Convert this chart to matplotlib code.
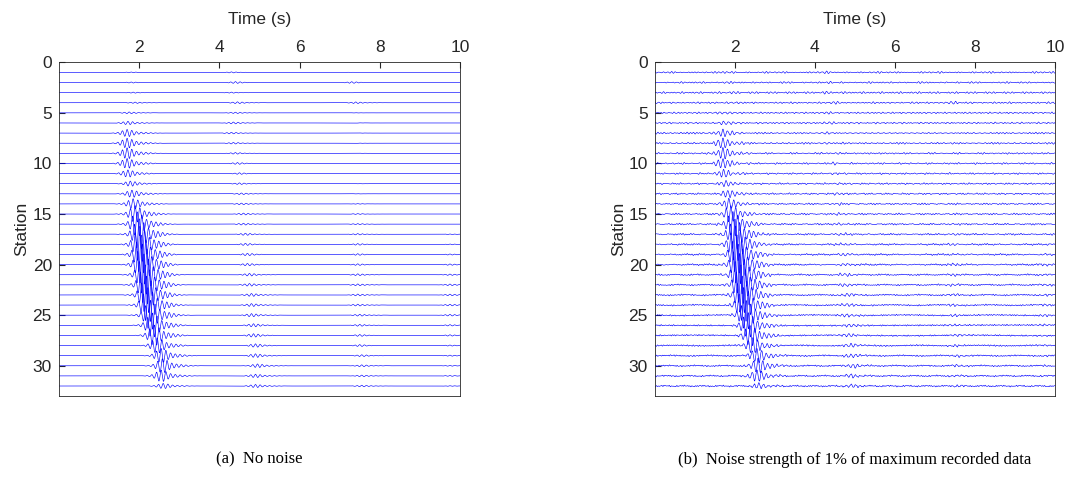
import numpy as np
import matplotlib.pyplot as plt

# Station numbers and main arrival (time of envelope peak, amplitude in station units)
stations = np.arange(1, 33)
t_main = [1.80, 1.80, 1.85, 1.90, 1.75, 1.72, 1.70, 1.70, 1.70, 1.70, 1.72, 1.78,
          1.82, 1.85, 1.90, 1.95, 2.00, 2.02, 2.05, 2.08, 2.12, 2.15, 2.18, 2.22,
          2.28, 2.33, 2.38, 2.45, 2.55, 2.58, 2.55, 2.60]
a_main = [0.03, 0.04, 0.04, 0.05, 0.07, 0.13, 0.28, 0.38, 0.42, 0.38, 0.28, 0.20,
          0.28, 0.40, 0.65, 0.95, 1.20, 1.40, 1.50, 1.60, 1.60, 1.55, 1.45, 1.35,
          1.15, 0.95, 0.80, 0.60, 0.55, 0.55, 0.45, 0.20]

# Second arrival (~4-5 s)
t_second = [4.30, 4.40, 4.30, 4.45, 4.40, 4.35, 4.30, 4.35, 4.40, 4.45, 4.50, 4.50,
            4.55, 4.55, 4.60, 4.60, 4.65, 4.65, 4.70, 4.70, 4.75, 4.75, 4.80, 4.80,
            4.80, 4.85, 4.85, 4.90, 4.90, 4.95, 4.90, 4.90]
a_second = [0.04, 0.07, 0.04, 0.07, 0.05, 0.07, 0.06, 0.06, 0.06, 0.07, 0.06, 0.06,
            0.06, 0.06, 0.07, 0.07, 0.08, 0.08, 0.09, 0.09, 0.10, 0.10, 0.11, 0.11,
            0.12, 0.12, 0.13, 0.13, 0.14, 0.14, 0.13, 0.12]

# Third arrival (~7-8 s)
t_third = [7.20, 7.30, 7.40, 7.40, 7.40, 7.50, 7.50, 7.50, 7.50, 7.50, 7.50, 7.50,
           7.45, 7.45, 7.45, 7.45, 7.45, 7.45, 7.45, 7.45, 7.45, 7.45, 7.45, 7.45,
           7.50, 7.50, 7.50, 7.50, 7.55, 7.55, 7.55, 7.55]
a_third = [0.01, 0.06, 0.01, 0.06, 0.01, 0.01, 0.01, 0.01, 0.01, 0.01, 0.01, 0.01,
           0.01, 0.02, 0.03, 0.04, 0.05, 0.06, 0.06, 0.06, 0.07, 0.07, 0.07, 0.07,
           0.07, 0.07, 0.07, 0.07, 0.07, 0.07, 0.06, 0.06]

# Late arrival near the right edge
t_late = [9.75] * 32
a_late = [0.0] * 16 + [0.02, 0.03, 0.04, 0.05, 0.05, 0.06, 0.06, 0.06,
                       0.06, 0.05, 0.05, 0.04, 0.04, 0.03, 0.03, 0.02]

noise_level = 0.01  # fraction of max recorded amplitude
captions = ["(a)  No noise", "(b)  Noise strength of 1% of maximum recorded data"]

t = np.linspace(0, 10, 3001)
freq = 8.5


def wavelet(t0, amp):
    dt = t - t0
    env = np.exp(-(dt / 0.17) ** 2) + 0.35 * np.exp(-((dt - 0.2) / 0.42) ** 2)
    return amp * env * np.cos(2 * np.pi * freq * dt)


def trace(i):
    return (wavelet(t_main[i], a_main[i]) + wavelet(t_second[i], a_second[i])
            + wavelet(t_third[i], a_third[i]) + wavelet(t_late[i], a_late[i]))


max_amp = max(a_main)

plt.rcParams['font.family'] = ['Liberation Sans', 'DejaVu Sans']
fig = plt.figure(figsize=(10.71, 4.79), dpi=100)
positions = [[0.055, 0.173, 0.3745, 0.697], [0.6115, 0.173, 0.3735, 0.697]]

for p, pos in enumerate(positions):
    ax = fig.add_axes(pos)
    for i, s in enumerate(stations):
        y = trace(i)
        if p == 1:
            # deterministic low-level noise
            k = i + 1
            noise = (np.sin(2 * np.pi * 9.7 * t + 1.3 * k) * np.sin(2 * np.pi * 0.37 * k * t + k)
                     + 0.8 * np.sin(2 * np.pi * 12.9 * t + 2.1 * k) * np.cos(2 * np.pi * 0.53 * t * (k % 7 + 1)))
            y = y + noise_level * 3.5 * max_amp * noise
        ax.plot(t, s - y, color='blue', lw=0.45)
    ax.set_xlim(0, 10)
    ax.set_ylim(33, 0)
    ax.set_xticks([2, 4, 6, 8, 10])
    ax.set_yticks([0, 5, 10, 15, 20, 25, 30])
    ax.xaxis.tick_top()
    ax.xaxis.set_label_position('top')
    ax.tick_params(direction='in', labelsize=12.5, colors='#262626', length=4, pad=5)
    ax.set_xlabel("Time (s)", fontsize=12.5, color='#262626', labelpad=12)
    ax.set_ylabel("Station", fontsize=12.5, color='#262626', labelpad=2)
    for sp in ax.spines.values():
        sp.set_color('#262626')
        sp.set_linewidth(0.6)
    fig.text(pos[0] + pos[2] / 2, 0.04, captions[p], ha='center', va='center',
             fontsize=12, family=['Liberation Serif', 'DejaVu Serif'])

fig.savefig("out.png", dpi=100)
